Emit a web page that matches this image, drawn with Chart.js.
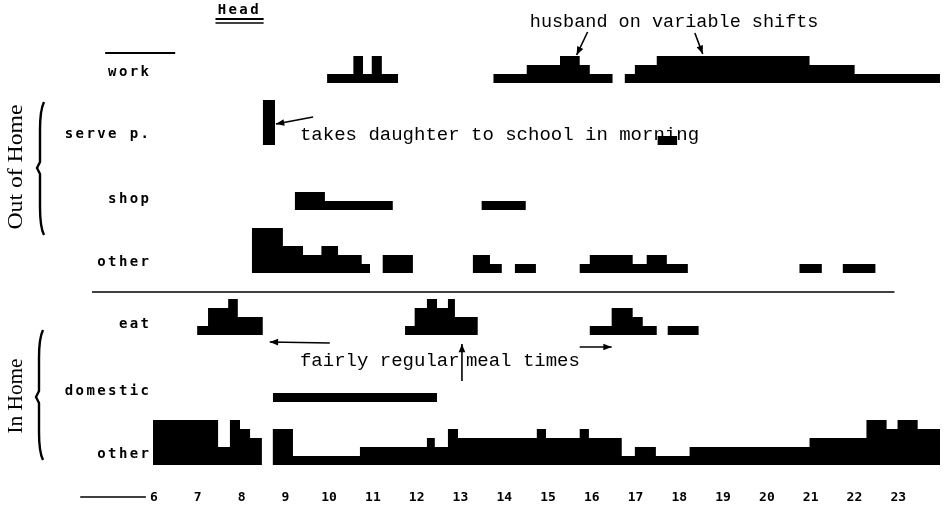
<!DOCTYPE html>
<html><head><meta charset="utf-8">
<script src="https://cdn.jsdelivr.net/npm/chart.js@4.4.1/dist/chart.umd.min.js"></script>
<style>html,body{margin:0;padding:0;background:#fff}#wrap{width:949px;height:510px}</style>
</head><body><div id="wrap"><canvas id="c" width="949" height="510"></canvas></div>
<script>
// ---- data: hour ticks and labels ----
const hourTicks = [6,7,8,9,10,11,12,13,14,15,16,17,18,19,20,21,22,23];
const tickLabels = ['6','7','8','9','10','11','12','13','14','15','16','17','18','19','20','21','22','23'];
const rowNames = ['work','serve p.','shop','other','eat','domestic','other'];

// each series: [start hour, level] steps (level holds until next step)
const work = [[10.0,1],[10.6,3],[10.82,1],[11.02,3],[11.25,1],[11.62,0],
  [13.8,1],[14.56,2],[15.32,3],[15.77,2],[16.0,1],[16.52,0],
  [16.8,1],[17.03,2],[17.53,3],[21.02,2],[22.05,1],[24,0]];
const servePassenger = [[8.53,5],[8.81,0],[17.55,1],[18.0,0]];
const shop = [[9.26,2],[9.95,1],[11.5,0],[13.53,1],[14.54,0]];
const otherOut = [[8.28,5],[8.99,3],[9.45,2],[9.87,3],[10.25,2],[10.79,1],[10.98,0],
  [11.27,2],[11.96,0],[13.33,2],[13.72,1],[13.99,0],[14.29,1],[14.77,0],
  [15.77,1],[16.0,2],[16.98,1],[17.3,2],[17.76,1],[18.24,0],
  [20.79,1],[21.3,0],[21.78,1],[22.53,0]];
const eat = [[7.03,1],[7.28,3],[7.74,4],[7.96,2],[8.53,0],
  [11.78,1],[12.0,3],[12.28,4],[12.51,3],[12.76,4],[12.92,2],[13.44,0],
  [16.0,1],[16.5,3],[16.98,2],[17.21,1],[17.53,0],[17.78,1],[18.49,0]];
const domestic = [[8.76,1],[12.51,0]];
const otherIn = [[6.02,5],[7.51,2],[7.78,5],[8.01,4],[8.24,3],[8.51,0],[8.76,4],[9.22,1],
  [10.75,2],[12.28,3],[12.46,2],[12.76,4],[12.99,3],[14.79,4],[15.0,3],[15.77,4],[15.98,3],
  [16.73,1],[17.03,2],[17.51,1],[18.28,2],[21.02,3],[22.32,5],[22.78,4],[23.03,5],[23.49,4],[24,0]];

// ---- layout (row baselines on the vertical scale, level size) ----
const seriesList = [work, servePassenger, shop, otherOut, eat, domestic, otherIn];
const rowBase = [83, 145, 210, 273, 335, 402, 465];
const UNIT = 9;

const datasets = seriesList.map((s, i) => ({
  label: rowNames[i],
  data: s.map(([h, l]) => ({x: h, y: rowBase[i] - l * UNIT})),
  stepped: 'before',
  fill: {value: rowBase[i]},
  backgroundColor: '#000',
  borderColor: 'rgba(0,0,0,0)',
  borderWidth: 0,
  pointRadius: 0,
  tension: 0
}));

const TYPE = '"Liberation Mono", "DejaVu Sans Mono", monospace';
const SMALL = '"DejaVu Sans Mono", "Liberation Mono", monospace';

function arrow(ctx, x1, y1, x2, y2) {
  ctx.beginPath(); ctx.moveTo(x1, y1); ctx.lineTo(x2, y2); ctx.stroke();
  const a = Math.atan2(y2 - y1, x2 - x1), L = 9, w = 0.38;
  ctx.beginPath();
  ctx.moveTo(x2, y2);
  ctx.lineTo(x2 - L * Math.cos(a - w), y2 - L * Math.sin(a - w));
  ctx.lineTo(x2 - L * Math.cos(a + w), y2 - L * Math.sin(a + w));
  ctx.closePath(); ctx.fill();
}
function brace(ctx, x, top, mid, bot) {
  ctx.beginPath();
  ctx.moveTo(x + 4, top);
  ctx.quadraticCurveTo(x, top + 8, x, top + 28);
  ctx.lineTo(x, mid - 6);
  ctx.lineTo(x - 3, mid);
  ctx.lineTo(x, mid + 6);
  ctx.lineTo(x, bot - 28);
  ctx.quadraticCurveTo(x, bot - 8, x + 4, bot);
  ctx.stroke();
}
function vText(ctx, text, cx, cy, len) {
  ctx.save();
  ctx.translate(cx, cy); ctx.rotate(-Math.PI / 2);
  const w = ctx.measureText(text).width;
  ctx.scale(len / w, 1);
  ctx.fillText(text, 0, 0);
  ctx.restore();
}

const annotations = {
  id: 'annotations',
  afterDraw(chart) {
    const ctx = chart.ctx, xs = chart.scales.x, ys = chart.scales.y;
    const X = h => xs.getPixelForValue(h), Y = v => ys.getPixelForValue(v);
    ctx.save();
    ctx.fillStyle = '#000'; ctx.strokeStyle = '#000';
    // row labels
    ctx.font = 'bold 14px ' + SMALL;
    ctx.textBaseline = 'middle';
    ctx.textAlign = 'left';
    ctx.letterSpacing = '2.4px';
    rowNames.forEach((n, i) => {
      const w = ctx.measureText(n).width - 2.4;
      ctx.fillText(n, X(6) - 3 - w, Y(rowBase[i] - 11));
    });
    // "Head"
    ctx.fillText('Head', X(7.5), Y(10));
    ctx.letterSpacing = '0px';
    ctx.lineWidth = 2.2;
    ctx.beginPath(); ctx.moveTo(X(7.45), Y(19)); ctx.lineTo(X(8.55), Y(19)); ctx.stroke();
    ctx.lineWidth = 1.6;
    ctx.beginPath(); ctx.moveTo(X(7.45), Y(23)); ctx.lineTo(X(8.55), Y(23)); ctx.stroke();
    // key line above "work"
    ctx.lineWidth = 2;
    ctx.beginPath(); ctx.moveTo(X(4.93), Y(53)); ctx.lineTo(X(6.53), Y(53)); ctx.stroke();
    // divider between out of home / in home
    ctx.lineWidth = 1.6;
    ctx.beginPath(); ctx.moveTo(X(4.63), Y(292)); ctx.lineTo(X(22.96), Y(292)); ctx.stroke();
    // axis lead line
    ctx.beginPath(); ctx.moveTo(X(4.36), Y(497)); ctx.lineTo(X(5.86), Y(497)); ctx.stroke();
    // annotations
    ctx.font = '18.5px ' + TYPE;
    ctx.textAlign = 'left';
    ctx.fillText('husband on variable shifts', X(14.63), Y(22));
    ctx.font = '19px ' + TYPE;
    ctx.fillText('takes daughter to school in morning', X(9.38), Y(135));
    ctx.fillText('fairly regular', X(9.38), Y(361));
    ctx.fillText('meal times', X(13.17), Y(361));
    ctx.lineWidth = 1.6;
    arrow(ctx, X(15.95), Y(32), X(15.70), Y(55));
    arrow(ctx, X(18.40), Y(33), X(18.58), Y(54));
    arrow(ctx, X(9.68), Y(117), X(8.83), Y(124));
    arrow(ctx, X(13.08), Y(381), X(13.08), Y(344));
    arrow(ctx, X(10.06), Y(343), X(8.69), Y(342));
    arrow(ctx, X(15.77), Y(347), X(16.50), Y(347));
    // group labels and braces
    ctx.font = '21px "Liberation Serif", "DejaVu Serif", serif';
    ctx.textAlign = 'center';
    vText(ctx, 'Out of Home', 16, Y(167), 125);
    vText(ctx, 'In Home', 16, Y(396), 75);
    ctx.lineWidth = 2.4;
    brace(ctx, 40, Y(102), Y(168), Y(235));
    brace(ctx, 39, Y(330), Y(397), Y(460));
    ctx.restore();
  }
};

new Chart(document.getElementById('c'), {
  type: 'line',
  data: {datasets},
  options: {
    responsive: false,
    devicePixelRatio: 1,
    animation: false,
    events: [],
    layout: {padding: {left: 152, right: 9, top: 0, bottom: 0}},
    plugins: {legend: {display: false}, tooltip: {enabled: false}},
    scales: {
      x: {
        type: 'linear', min: 6, max: 24,
        grid: {display: false, drawTicks: false},
        border: {display: false},
        afterBuildTicks: s => { s.ticks = hourTicks.map(v => ({value: v})); },
        afterFit: s => { s.height = 40; },
        ticks: {
          autoSkip: false, maxRotation: 0, padding: 20, color: '#000', labelOffset: 2,
          font: {family: SMALL, size: 13, weight: 'bold'},
          callback: (v, i) => tickLabels[i]
        }
      },
      y: {type: 'linear', min: 0, max: 470, reverse: true, display: false}
    }
  },
  plugins: [annotations]
});
</script>
</body></html>
